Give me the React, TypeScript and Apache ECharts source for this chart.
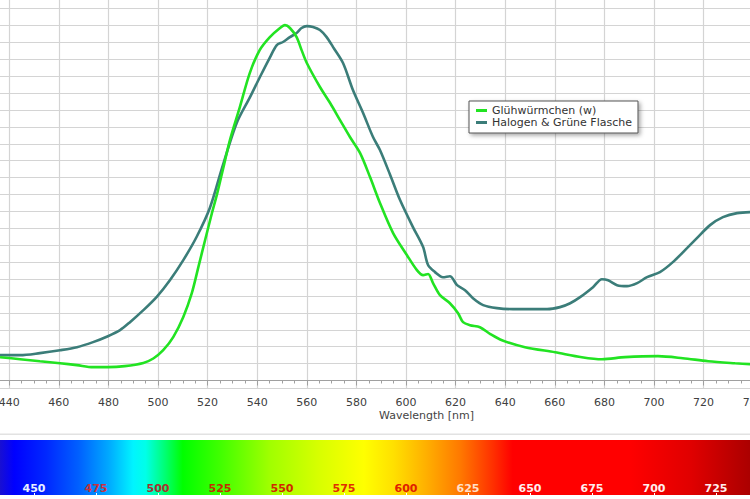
import React, { useEffect, useRef } from "react";
import * as echarts from "echarts";

// Glühwürmchen (w): [wavelength nm, relative intensity]
const gluehwuermchen: [number, number][] = [
  [436.3, 1.38], [444.4, 1.26], [452.4, 1.14], [460.5, 1.02], [467.3, 0.91],
  [473.8, 0.79], [479.8, 0.79], [486.6, 0.85], [494.1, 1.04], [498.1, 1.3],
  [502.1, 1.79], [506.2, 2.58], [510.2, 3.76], [513.6, 5.15], [516.3, 6.72],
  [519.0, 8.31], [521.7, 9.88], [523.7, 10.96], [526.3, 12.56], [529.0, 14.22],
  [533.0, 16.17], [537.0, 18.18], [541.0, 19.54], [545.1, 20.31], [549.2, 20.85],
  [551.2, 21.02], [553.2, 20.85], [555.9, 20.31], [557.9, 19.54], [560.0, 18.78],
  [565.3, 17.36], [569.4, 16.41], [573.4, 15.4], [577.4, 14.4], [581.5, 13.45],
  [585.5, 12.03], [589.5, 10.5], [594.8, 8.72], [600.4, 7.41], [604.4, 6.53],
  [606.9, 6.23], [608.9, 6.3], [610.9, 5.76], [613.7, 5.05], [617.7, 4.57],
  [621.0, 3.98], [623.0, 3.45], [625.8, 3.27], [629.8, 3.15], [634.0, 2.75],
  [638.7, 2.38], [648.0, 1.97], [660.1, 1.67], [670.9, 1.38], [679.0, 1.26],
  [688.3, 1.38], [701.6, 1.44], [711.6, 1.32], [721.8, 1.14], [732.7, 1.02],
  [739.5, 0.96],
];

// Halogen & Grüne Flasche: [wavelength nm, relative intensity]
const halogenGrueneFlasche: [number, number][] = [
  [436.3, 1.5], [444.4, 1.5], [452.4, 1.62], [460.5, 1.79], [467.3, 1.97],
  [473.8, 2.27], [479.8, 2.62], [484.7, 2.98], [488.7, 3.45], [494.1, 4.16],
  [499.5, 4.95], [504.8, 5.93], [510.2, 7.12], [515.6, 8.5], [520.9, 10.2],
  [525.8, 12.56], [531.7, 15.22], [537.1, 16.76], [541.1, 17.95], [545.2, 19.13],
  [547.9, 19.84], [550.4, 20.02], [553.2, 20.31], [555.9, 20.55], [557.9, 20.85],
  [560.0, 20.96], [562.5, 20.91], [565.3, 20.73], [568.0, 20.31], [570.6, 19.72],
  [574.6, 18.78], [578.6, 17.18], [582.7, 15.82], [586.7, 14.4], [589.5, 13.63],
  [593.5, 12.2], [597.6, 10.67], [602.8, 9.07], [606.9, 7.89], [608.9, 6.83],
  [611.7, 6.41], [614.9, 6.11], [617.7, 6.17], [620.6, 5.64], [623.8, 5.34],
  [627.0, 4.87], [631.1, 4.46], [636.7, 4.28], [643.1, 4.22], [650.0, 4.22],
  [656.9, 4.22], [662.1, 4.34], [666.2, 4.57], [670.2, 4.93], [675.4, 5.52],
  [679.0, 5.99], [681.5, 5.93], [685.1, 5.64], [689.1, 5.58], [693.2, 5.76],
  [697.2, 6.11], [702.4, 6.41], [707.6, 7.0], [713.3, 7.83], [717.3, 8.42],
  [722.6, 9.19], [727.8, 9.66], [733.5, 9.9], [739.5, 9.96],
];

const seriesNames = ["Glühwürmchen (w)", "Halogen & Grüne Flasche"];

// spectrum bar: [wavelength nm, colour]
const spectrumStops: [number, string][] = [
  [425, "#2010c0"], [436, "#1a10d0"], [442, "#0000ff"], [455, "#0028ff"],
  [468, "#0060ff"], [480, "#00a8ff"], [490, "#00f4ff"], [495, "#00ffe8"],
  [503, "#00ff70"], [510, "#00ff00"], [525, "#40ff00"], [545, "#a0ff00"],
  [565, "#d8ff00"], [583, "#ffff00"], [595, "#ffe000"], [608, "#ffb000"],
  [622, "#ff7800"], [635, "#ff3000"], [643, "#ff0000"], [690, "#ff0000"],
  [715, "#e00000"], [740, "#a80000"], [750, "#a00000"],
];

// spectrum tick label colours by wavelength
const spectrumLabelColors: [number, string][] = [
  [450, "#e8f0ff"], [475, "#c83040"], [500, "#a83030"], [525, "#c03000"],
  [550, "#d02800"], [575, "#e03000"], [600, "#e02000"], [625, "#ffe0c8"],
  [650, "#ffeeee"], [675, "#ffeeee"], [700, "#ffeeee"], [725, "#ffeeee"],
];

const FONT = "DejaVu Sans";

export default function App() {
  const ref = useRef<HTMLDivElement>(null);

  useEffect(() => {
    if (!ref.current) return;
    const chart = echarts.init(ref.current, undefined, { renderer: "svg" });
    const specMin = 425;
    const specMax = 750;
    const gradient = new echarts.graphic.LinearGradient(
      0, 0, 1, 0,
      spectrumStops.map(([nm, c]) => ({
        offset: (nm - specMin) / (specMax - specMin),
        color: c,
      }))
    );
    const labelColor = (v: number) => {
      const f = spectrumLabelColors.find(([nm]) => nm === Number(v));
      return f ? f[1] : "transparent";
    };

    chart.setOption({
      animation: false,
      backgroundColor: "#ffffff",
      grid: [
        {
          left: -40.4, right: -3.2, top: -5, bottom: 110.5,
          containLabel: false, outerBoundsMode: "none",
        },
        {
          left: -28, right: -28, top: 440, height: 55,
          show: true, backgroundColor: gradient, borderWidth: 0,
          containLabel: false, outerBoundsMode: "none",
        },
      ],
      legend: {
        orient: "vertical",
        left: 469,
        top: 101,
        backgroundColor: "#ffffff",
        borderColor: "#555555",
        borderWidth: 1,
        shadowBlur: 4,
        shadowColor: "rgba(0,0,0,0.35)",
        shadowOffsetX: 2,
        shadowOffsetY: 2,
        padding: [4, 6, 5, 7],
        itemGap: 1,
        itemWidth: 11,
        itemHeight: 3,
        icon: "rect",
        textStyle: { fontFamily: FONT, fontSize: 11, color: "#333333" },
        data: seriesNames,
      },
      xAxis: [
        {
          type: "value",
          gridIndex: 0,
          min: 420,
          max: 740,
          interval: 20,
          axisLine: { show: true, lineStyle: { color: "#a0a0a0", width: 1 } },
          axisTick: { show: true, length: 5, lineStyle: { color: "#a0a0a0" } },
          minorTick: { show: true, splitNumber: 4, length: 3, lineStyle: { color: "#a0a0a0" } },
          splitLine: { show: true, lineStyle: { color: "#d4d4d4", width: 1.2 } },
          axisLabel: {
            color: "#404040", fontFamily: FONT, fontSize: 11, margin: 8,
            formatter: (v: number) => (v < 436 ? "" : String(v)),
          },
        },
        {
          type: "value",
          gridIndex: 1,
          min: specMin,
          max: specMax,
          interval: 25,
          axisLine: { show: false },
          axisTick: { show: true, inside: true, length: 2, lineStyle: { color: "#ffffff" } },
          splitLine: { show: false },
          axisLabel: {
            inside: true,
            margin: 1,
            fontFamily: FONT,
            fontSize: 11,
            fontWeight: "bold",
            color: labelColor,
            formatter: (v: number) => (v < 436 || v > 738 ? "" : String(v)),
          },
        },
      ],
      yAxis: [
        {
          type: "value",
          gridIndex: 0,
          min: -0.473,
          max: 22.8,
          splitNumber: 23,
          minInterval: 1,
          maxInterval: 1,
          axisLine: { show: false },
          axisTick: { show: false },
          axisLabel: { show: false },
          splitLine: { show: true, lineStyle: { color: "#d4d4d4", width: 1.2 } },
        },
        {
          type: "value",
          gridIndex: 1,
          min: 0,
          max: 1,
          show: false,
        },
      ],
      graphic: [
        {
          type: "rect",
          left: 0,
          top: 433.5,
          shape: { width: 750, height: 1.5 },
          style: { fill: "#e2e2e2" },
          silent: true,
        },
        {
          type: "text",
          left: 379,
          top: 410,
          style: { text: "Wavelength [nm]", font: `11px "${FONT}"`, fill: "#444444" },
          silent: true,
        },
      ],
      series: [
        {
          name: seriesNames[0],
          type: "line",
          xAxisIndex: 0,
          yAxisIndex: 0,
          data: gluehwuermchen,
          showSymbol: false,
          smooth: 0.3,
          lineStyle: { color: "#22e322", width: 2.6 },
          itemStyle: { color: "#22e322" },
          z: 3,
        },
        {
          name: seriesNames[1],
          type: "line",
          xAxisIndex: 0,
          yAxisIndex: 0,
          data: halogenGrueneFlasche,
          showSymbol: false,
          smooth: 0.3,
          lineStyle: { color: "#3b7d79", width: 2.6 },
          itemStyle: { color: "#3b7d79" },
          z: 2,
        },
      ],
    });
    return () => chart.dispose();
  }, []);

  return (
    <div
      ref={ref}
      style={{ position: "absolute", left: 0, top: 0, width: 750, height: 499 }}
    />
  );
}
